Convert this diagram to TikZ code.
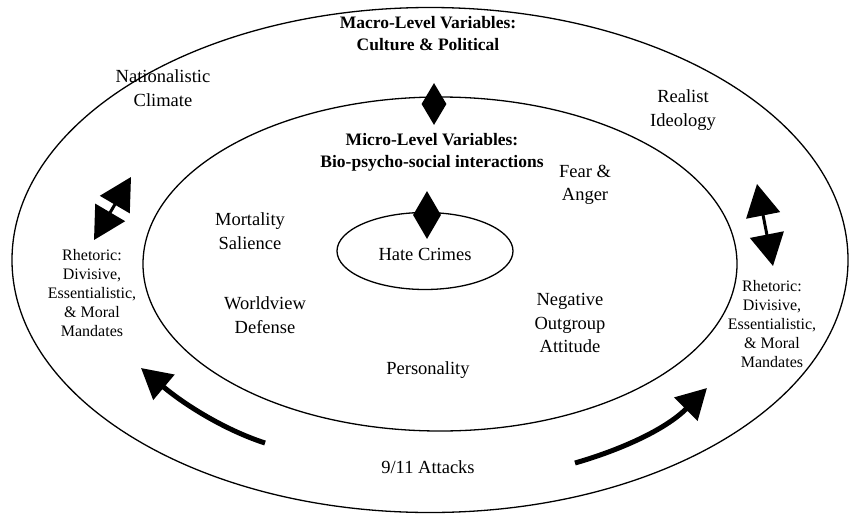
\documentclass[tikz,border=0pt]{standalone}
\usepackage{fontspec}
\setmainfont{Liberation Serif}
\usetikzlibrary{arrows.meta,shapes.geometric}
\definecolor{ink}{HTML}{000000}
\definecolor{paper}{HTML}{FFFFFF}
\tikzset{
  ring/.style={draw=ink, line width=1.3pt, ellipse, inner sep=0pt},
  gem/.style={diamond, fill=ink, inner sep=0pt},
  lbl/.style={text=ink, font=\fontsize{18.5}{23.5}\selectfont, align=center},
  hlbl/.style={text=ink, font=\fontsize{17.5}{22}\selectfont\bfseries, align=center},
  slbl/.style={text=ink, font=\fontsize{16}{19}\selectfont, align=center},
  link/.style={draw=ink, line width=3pt,
    {Triangle[length=32pt,width=34pt]}-{Triangle[length=32pt,width=34pt]}},
  flow/.style={draw=ink, line width=5pt, -{Triangle[length=30pt,width=32pt]}}
}

\begin{document}
\begin{tikzpicture}[x=1pt, y=-1pt]
  \useasboundingbox[fill=paper] (0,0) rectangle (850,514);

  % rings
  \node[ring, minimum width=836pt, minimum height=505pt] (macro) at (430,260) {};
  \node[ring, minimum width=594pt, minimum height=334pt] (micro) at (440,264) {};
  \node[ring, minimum width=176pt, minimum height=77pt] (hate) at (425,251) {};

  % diamonds on the rings
  \node[gem, minimum width=25pt, minimum height=42pt] (gemA) at (434,104) {};
  \node[gem, minimum width=28pt, minimum height=48pt] (gemB) at (427,215) {};

  % headings
  \node[hlbl] (macrot) at (428,34) {Macro-Level Variables:\\Culture \& Political};
  \node[hlbl] (microt) at (432,152) {Micro-Level Variables:\\Bio-psycho-social interactions};
  \node[lbl] (hatet) at (425,254) {Hate Crimes};

  % macro labels
  \node[lbl] (clim) at (163,88) {Nationalistic\\Climate};
  \node[lbl] (ideo) at (683,110) {Realist\\Ideology};
  \node[slbl] (rhetL) at (92,293) {Rhetoric:\\Divisive,\\Essentialistic,\\\& Moral\\Mandates};
  \node[slbl] (rhetR) at (772,324) {Rhetoric:\\Divisive,\\Essentialistic,\\\& Moral\\Mandates};
  \node[lbl] (attk) at (428,467) {9/11 Attacks};

  % micro labels
  \node[lbl] (mort) at (250,231) {Mortality\\Salience};
  \node[lbl] (fear) at (585,185) {Fear \&\\Anger};
  \node[lbl] (world) at (265,315) {Worldview\\Defense};
  \node[lbl] (outg) at (570,323) {Negative\\Outgroup\\Attitude};
  \node[lbl] (pers) at (428,370) {Personality};

  % arrows
  \coordinate (lA) at (94,240);
  \coordinate (lB) at (131,177);
  \coordinate (rA) at (757,184);
  \coordinate (rB) at (773,266);
  \draw[link] (lA) -- (lB);
  \draw[link] (rA) -- (rB);

  \coordinate (fL0) at (265,443);
  \coordinate (fL1) at (141,368);
  \coordinate (fR0) at (575,463);
  \coordinate (fR1) at (707,388);
  \draw[flow] (fL0) .. controls (225,430) and (185,405) .. (fL1);
  \draw[flow] (fR0) .. controls (620,450) and (665,430) .. (fR1);
\end{tikzpicture}
\end{document}
